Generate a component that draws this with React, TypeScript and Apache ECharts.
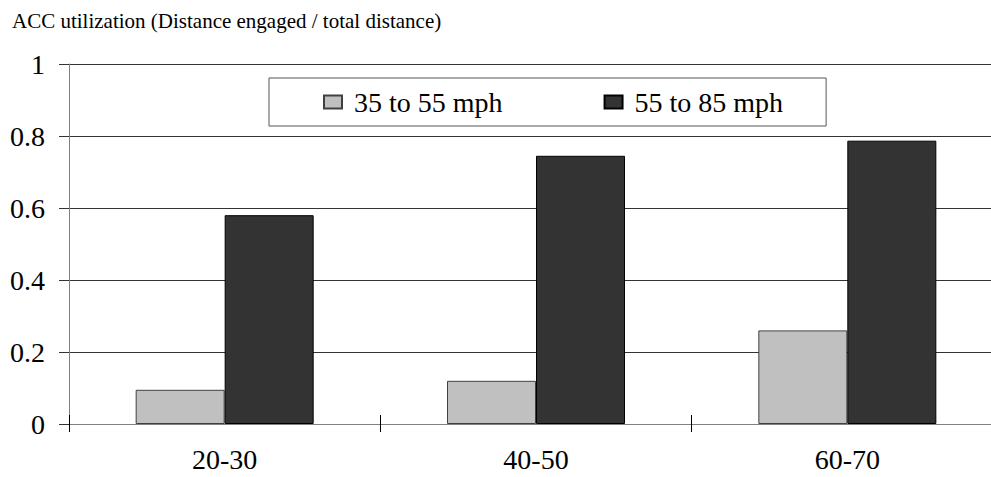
import React, { useEffect, useRef } from "react";
import * as echarts from "echarts";

const titleText = "ACC utilization (Distance engaged / total distance)";
const categories = ["20-30", "40-50", "60-70"];
const seriesNames = ["35 to 55 mph", "55 to 85 mph"];
const lowSpeed = [0.095, 0.12, 0.26];
const highSpeed = [0.58, 0.745, 0.787];
const yTicks = { min: 0, max: 1, interval: 0.2 };

const FONT = "Liberation Serif";

export default function App() {
  const ref = useRef<HTMLDivElement>(null);
  useEffect(() => {
    if (!ref.current) return;
    const chart = echarts.init(ref.current, null, { renderer: "svg" });
    chart.setOption({
      animation: false,
      backgroundColor: "#ffffff",
      textStyle: { fontFamily: FONT },
      title: {
        text: titleText,
        left: 7,
        top: 5,
        textStyle: { fontFamily: FONT, fontSize: 21, fontWeight: "normal", color: "#000" },
      },
      legend: {
        data: seriesNames,
        left: 269,
        top: 78,
        padding: [10, 43, 10, 54],
        itemWidth: 18,
        itemHeight: 13,
        itemGap: 101,
        borderColor: "#555",
        borderWidth: 1,
        icon: "rect",
        textStyle: { fontFamily: FONT, fontWeight: "normal", fontSize: 28, color: "#000", padding: [0, 0, 0, 7] },
      },
      grid: { left: 69, width: 934, top: 64, height: 360, outerBoundsMode: "none" },
      xAxis: [
        {
          type: "category",
          data: categories,
          axisLine: { lineStyle: { color: "#808080", width: 1 } },
          axisTick: { show: true, inside: false, length: 8, lineStyle: { color: "#000" } },
          axisLabel: { fontFamily: FONT, fontWeight: "normal", fontSize: 28, color: "#000", margin: 21 },
          splitLine: { show: false },
        },
        {
          type: "category",
          data: categories,
          position: "bottom",
          axisLine: { show: false },
          axisTick: { show: true, inside: true, length: 9, lineStyle: { color: "#000" } },
          axisLabel: { show: false },
          splitLine: { show: false },
        },
      ],
      yAxis: {
        type: "value",
        min: yTicks.min,
        max: yTicks.max,
        interval: yTicks.interval,
        axisLine: { show: true, lineStyle: { color: "#808080", width: 1 } },
        axisTick: { show: true, length: 10, lineStyle: { color: "#333" } },
        axisLabel: {
          fontFamily: FONT,
          fontWeight: "normal",
          fontSize: 28,
          color: "#000",
          margin: 24,
          padding: [0, 0, 4, 0],
        },
        splitLine: { show: true, lineStyle: { color: "#333", width: 1 } },
      },
      series: [
        {
          name: seriesNames[0],
          type: "bar",
          xAxisIndex: 0,
          data: lowSpeed,
          barWidth: 89,
          barGap: "0%",
          itemStyle: { color: "#c0c0c0", borderColor: "#404040", borderWidth: 1 },
        },
        {
          name: seriesNames[1],
          type: "bar",
          xAxisIndex: 0,
          data: highSpeed,
          barWidth: 89,
          barGap: "0%",
          itemStyle: { color: "#333333", borderColor: "#000", borderWidth: 1 },
        },
      ],
    });
    return () => chart.dispose();
  }, []);
  return (
    <div
      ref={ref}
      style={{ position: "absolute", left: 0, top: 0, width: 991, height: 477, overflow: "hidden" }}
    />
  );
}
